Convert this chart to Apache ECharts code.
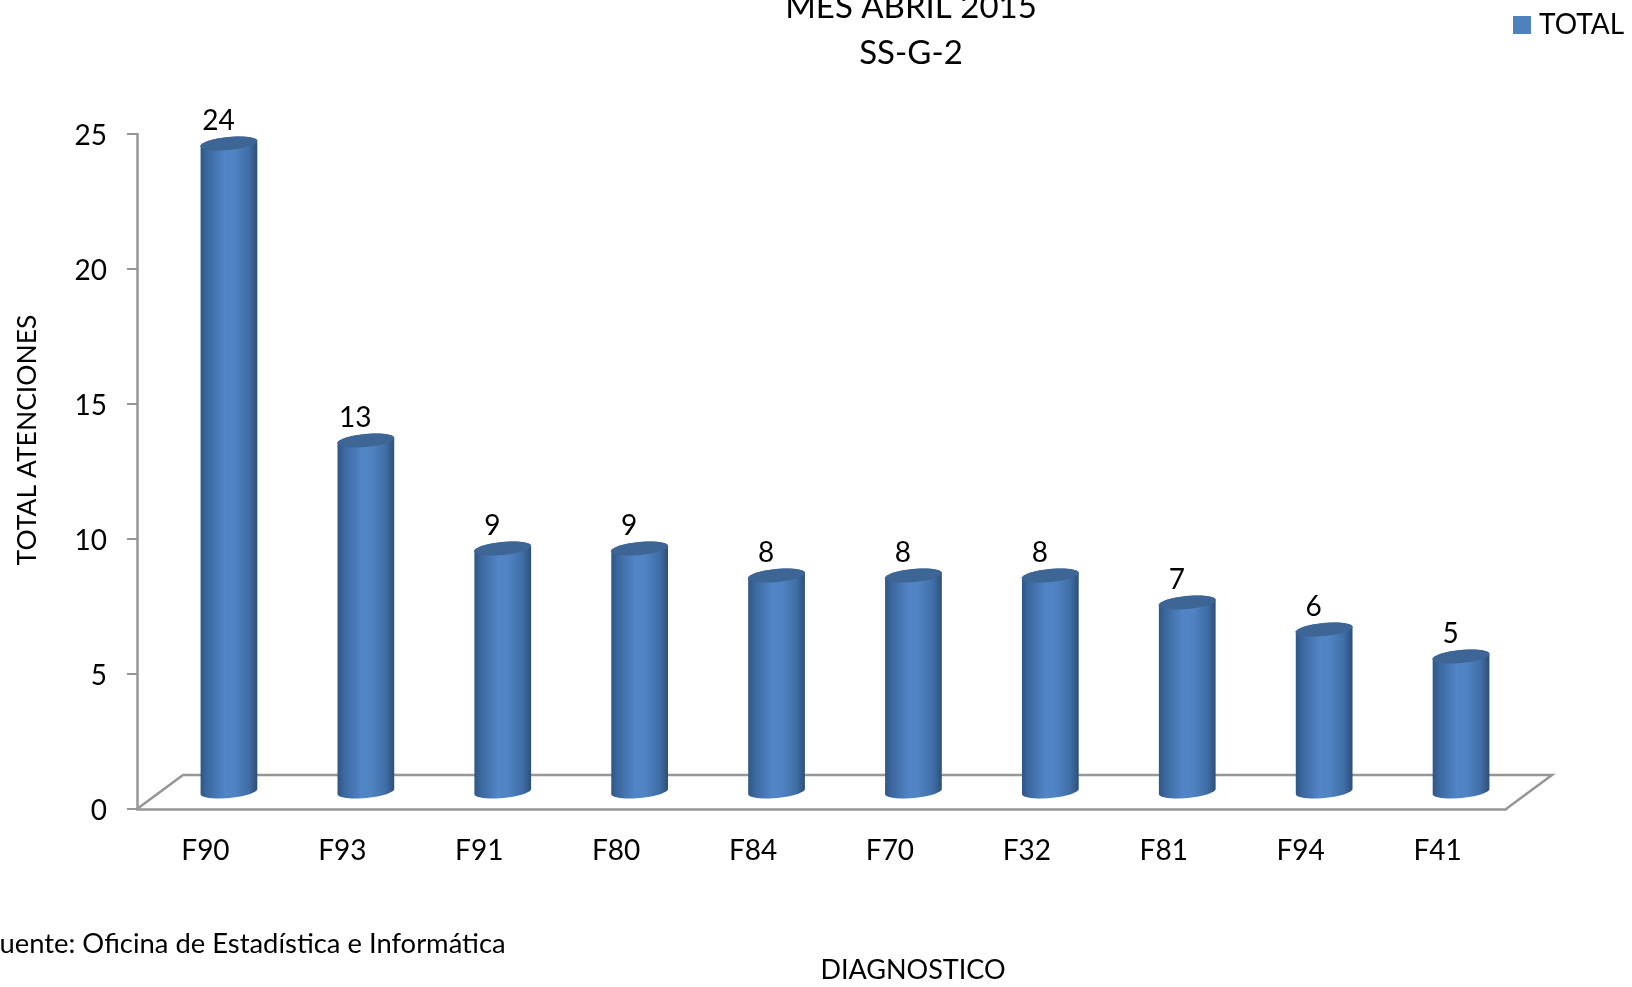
<!DOCTYPE html>
<html>
<head>
<meta charset="utf-8">
<style>html,body{margin:0;padding:0;background:#fff}#c{width:1632px;height:987px}</style>
<script src="https://cdn.jsdelivr.net/npm/echarts@6/dist/echarts.min.js"></script>
</head>
<body>
<div id="c"></div>
<script>
const categories = ['F90','F93','F91','F80','F84','F70','F32','F81','F94','F41'];
const totals = [24,13,9,9,8,8,8,7,6,5];
const yTicks = [0,5,10,15,20,25];
const seriesName = 'TOTAL';
const titleLines = 'MES ABRIL 2015\nSS-G-2';
const sourceNote = 'Fuente: Oficina de Estadística e Informática';
const xName = 'DIAGNOSTICO';
const yName = 'TOTAL ATENCIONES';

const FONT = 'Lato';
const FS = 28;
const chart = echarts.init(document.getElementById('c'), null, {renderer:'canvas'});

// perspective offsets of the 3D look, in px
const DX = 23.5, DY = -17.5, FLOOR_DX = 46, FLOOR_DY = -34;
const RX = 28.5, RY = 6.5, TILT = -5.5 * Math.PI / 180;

function arc(cx, cy, from, to, n) {
  const pts = [];
  for (let k = 0; k <= n; k++) {
    const a = from + (to - from) * k / n;
    const ex = RX * Math.cos(a), ey = RY * Math.sin(a);
    pts.push([cx + ex * Math.cos(TILT) - ey * Math.sin(TILT), cy + ex * Math.sin(TILT) + ey * Math.cos(TILT)]);
  }
  return pts;
}
const bodyFill = {type:'linear',x:0,y:0,x2:1,y2:0,colorStops:[
  {offset:0,color:'#2f5686'},{offset:0.1,color:'#3a669c'},{offset:0.42,color:'#5285c6'},
  {offset:0.6,color:'#5083c3'},{offset:0.85,color:'#3f6ea6'},{offset:1,color:'#2e4f78'}]};

function renderBar(params, api) {
  const i = api.value(0), v = api.value(1);
  const top = api.coord([i, v]), base = api.coord([i, 0]);
  const cx = top[0] + DX, ty = top[1] + DY, by = base[1] + DY;
  const body = arc(cx, ty, Math.PI, 2 * Math.PI, 24).concat(arc(cx, by, 0, Math.PI, 24));
  return {type:'group', children:[
    {type:'polygon', shape:{points:body}, style:{fill:bodyFill}},
    {type:'polygon', shape:{points:arc(cx, ty, 0, 2 * Math.PI, 48)}, style:{fill:'#3d6595'}},
    {type:'text', style:{text:String(v), x:cx - 10.5, y:ty - 22.5, align:'center', verticalAlign:'middle',
      fontFamily:FONT, fontSize:FS, fill:'#000'}}
  ]};
}
function renderFloor(params, api) {
  const c = api.coord([0, 0]), band = api.size([1, 0])[0];
  const x0 = c[0] - band / 2, y0 = c[1], x1 = x0 + band * categories.length;
  return {type:'polyline', shape:{points:[[x0,y0],[x0+FLOOR_DX,y0+FLOOR_DY],[x1+FLOOR_DX,y0+FLOOR_DY],[x1,y0]]},
    style:{stroke:'#969696', lineWidth:2.5, fill:null}};
}

chart.setOption({
  animation:false,
  backgroundColor:'#fff',
  textStyle:{fontFamily:FONT},
  title:[
    {text:titleLines, left:906, top:-21, textAlign:'center', textStyle:{fontFamily:FONT,fontWeight:'normal',fontSize:33,lineHeight:46,color:'#000'}},
    {text:sourceNote, left:-20, top:926, textStyle:{fontFamily:FONT,fontWeight:'normal',fontSize:27.4,color:'#000'}},
    {text:xName, left:908, top:952, textAlign:'center', textStyle:{fontFamily:FONT,fontWeight:'normal',fontSize:27,color:'#000'}}
  ],
  graphic:[{type:'text', x:27, y:440, rotation:Math.PI/2, style:{text:yName, align:'center', verticalAlign:'middle', fontFamily:FONT, fontSize:26.5, fill:'#000'}}],
  legend:{data:[{name:seriesName, icon:'rect'}], left:1508, top:6, itemWidth:18, itemHeight:18, itemGap:10,
    textStyle:{fontFamily:FONT,fontSize:FS,color:'#000',padding:[0,0,0,3]}},
  grid:{left:137, right:126, top:134, bottom:178},
  xAxis:{type:'category', data:categories, boundaryGap:true,
    axisLine:{lineStyle:{color:'#969696',width:2.5}}, axisTick:{show:false},
    axisLabel:{color:'#000',fontFamily:FONT,fontSize:FS,margin:28}},
  yAxis:{type:'value', min:0, max:25, interval:5, splitLine:{show:false},
    axisLine:{show:true,lineStyle:{color:'#969696',width:2.5}},
    axisTick:{show:true,length:10,lineStyle:{color:'#969696',width:2}},
    axisLabel:{margin:30,customValues:yTicks,formatter:'{a|{value}}',
      rich:{a:{color:'#000',fontFamily:FONT,fontSize:FS,padding:[4,0,0,0]}}}},
  series:[
    {type:'custom', name:'floor', silent:true, z:1, clip:false, coordinateSystem:'cartesian2d', renderItem:renderFloor, data:[[0,0]], encode:{x:0,y:1}},
    {type:'custom', name:seriesName, z:2, clip:false, coordinateSystem:'cartesian2d', itemStyle:{color:'#4f81bd'},
      renderItem:renderBar, encode:{x:0,y:1}, data:totals.map((v,i)=>[i,v])}
  ]
});
</script>
</body>
</html>
